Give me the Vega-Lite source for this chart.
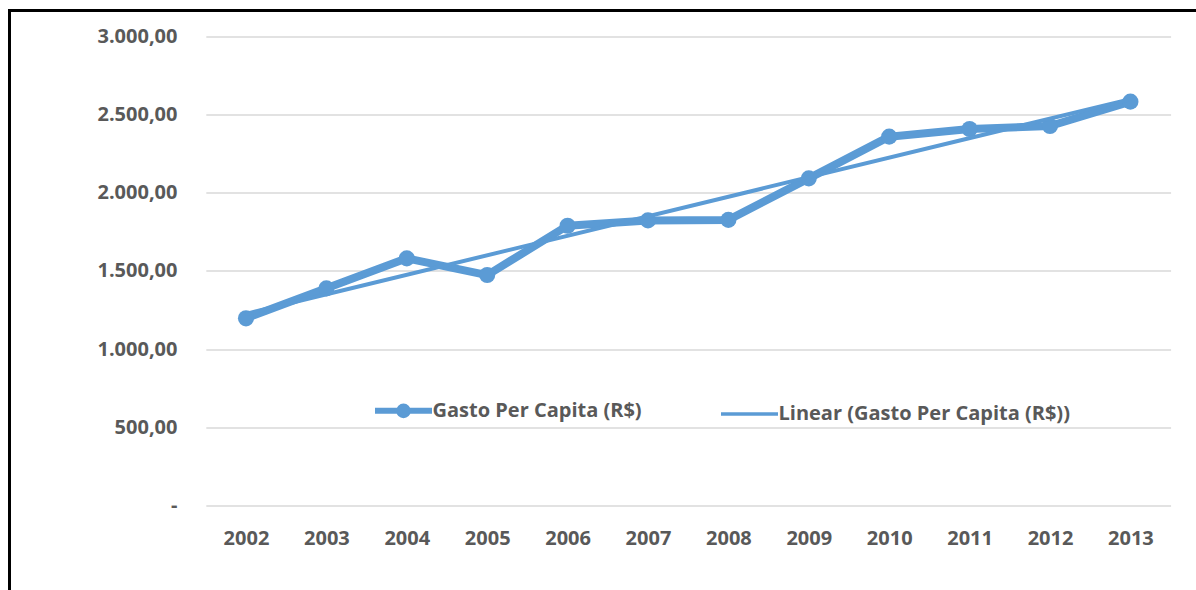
{
  "$schema": "https://vega.github.io/schema/vega-lite/v6.json",
  "width": 1186.5,
  "height": 579.5,
  "autosize": {"type": "none"},
  "padding": {"left": 9.5, "top": 10.5, "right": 0, "bottom": 0},
  "background": "white",
  "config": {
    "locale": {"number": {"decimal": ",", "thousands": ".", "grouping": [3], "currency": ["R$ ", ""]}},
    "view": {"stroke": "#000000", "strokeWidth": 3, "strokeDash": [1186.5, 1766, 579.5], "fill": "white"},
    "font": "Open Sans"
  },
  "data": {
    "values": [
      {"year": 2002, "v": 1197},
      {"year": 2003, "v": 1389},
      {"year": 2004, "v": 1581},
      {"year": 2005, "v": 1474},
      {"year": 2006, "v": 1790},
      {"year": 2007, "v": 1824},
      {"year": 2008, "v": 1827},
      {"year": 2009, "v": 2093},
      {"year": 2010, "v": 2360},
      {"year": 2011, "v": 2409},
      {"year": 2012, "v": 2428},
      {"year": 2013, "v": 2584}
    ]
  },
  "encoding": {
    "x": {
      "field": "year",
      "type": "quantitative",
      "scale": {"domain": [1999.0585, 2013.8159], "nice": false, "zero": false},
      "axis": {
        "title": null,
        "values": [2002, 2003, 2004, 2005, 2006, 2007, 2008, 2009, 2010, 2011, 2012, 2013],
        "format": "d",
        "grid": false,
        "domain": false,
        "ticks": false,
        "tickSize": 0,
        "labelPadding": 0,
        "offset": -51.5,
        "labelFont": "Open Sans",
        "labelFontWeight": "bold",
        "labelFontSize": 20,
        "labelColor": "#595959",
        "labelBaseline": "middle",
        "labelFlush": false,
        "labelOverlap": false
      }
    },
    "y": {
      "field": "v",
      "type": "quantitative",
      "scale": {"domain": [-542.3, 3167.7], "nice": false, "zero": false},
      "axis": {
        "title": null,
        "values": [0, 500, 1000, 1500, 2000, 2500, 3000],
        "format": ",.2f",
        "labelExpr": "datum.value === 0 ? '-\u00a0\u00a0' : datum.label",
        "domain": false,
        "ticks": false,
        "tickSize": 0,
        "labelPadding": 0,
        "offset": -167.5,
        "grid": true,
        "gridColor": "#D9D9D9",
        "gridWidth": 1.5,
        "gridDash": [0, 196.3, 964.8, 300],
        "labelFont": "Open Sans",
        "labelFontWeight": "bold",
        "labelFontSize": 20,
        "labelColor": "#595959",
        "labelOverlap": false
      }
    }
  },
  "layer": [
    {
      "mark": {
        "type": "line",
        "strokeWidth": 8,
        "strokeJoin": "round",
        "strokeCap": "round",
        "point": {"filled": true, "size": 260, "opacity": 1}
      },
      "encoding": {
        "color": {
          "datum": "Gasto Per Capita (R$)",
          "type": "nominal",
          "scale": {
            "domain": ["Gasto Per Capita (R$)", "Linear (Gasto Per Capita (R$))"],
            "range": ["#5B9BD5", "#5B9BD5"]
          },
          "legend": {
            "title": null,
            "orient": "none",
            "legendX": 365.5,
            "legendY": 390,
            "direction": "horizontal",
            "columnPadding": 72,
            "padding": 0,
            "symbolSize": 3249,
            "symbolOffset": 18.5,
            "labelFont": "Open Sans",
            "labelFontSize": 20,
            "labelFontWeight": "bold",
            "labelColor": "#595959",
            "labelOffset": 19,
            "labelLimit": 600,
            "encode": {
              "symbols": {
                "update": {
                  "shape": {"signal": "datum.value === 'Gasto Per Capita (R$)' ? 'M-1,0H1M-0.15,0A0.15,0.15,0,1,1,0.15,0A0.15,0.15,0,1,1,-0.15,0Z' : 'M-1,0H1'"},
                  "strokeWidth": {"signal": "datum.value === 'Gasto Per Capita (R$)' ? 6 : 3.5"},
                  "fill": {"value": "#5B9BD5"},
                  "stroke": {"value": "#5B9BD5"},
                  "opacity": {"value": 1}
                }
              }
            }
          }
        }
      }
    },
    {
      "transform": [{"regression": "v", "on": "year"}],
      "mark": {"type": "line", "strokeWidth": 4, "strokeCap": "round"},
      "encoding": {
        "color": {"datum": "Linear (Gasto Per Capita (R$))", "type": "nominal"}
      }
    }
  ]
}
